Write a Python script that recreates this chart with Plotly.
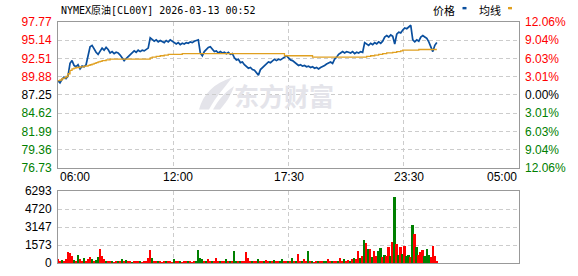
import plotly.graph_objects as go

# ---------------- data ----------------
step_minutes = 6
price = [89.3, 89.0, 89.5, 89.8, 89.6, 90.0, 91.8, 92.2, 91.5, 91.3,
         91.6, 91.0, 91.4, 91.3, 91.6, 92.8, 94.2, 94.4, 93.8, 93.4,
         93.1, 93.6, 94.0, 93.7, 94.1, 93.8, 93.3, 93.5, 93.2, 93.4,
         93.3, 93.0, 92.5, 92.2, 92.5, 92.8, 93.1, 93.4, 93.6, 93.4,
         93.7, 93.5, 93.7, 93.6, 93.8, 94.0, 95.5, 95.2, 95.0, 95.2,
         94.9, 95.1, 95.0, 94.8, 95.1, 94.9, 95.2, 95.0, 94.7, 94.6,
         94.8, 94.5, 94.7, 94.6, 94.8, 94.7, 94.9, 94.8, 95.0, 95.1,
         95.2, 93.3, 92.9, 93.5, 93.8, 94.1, 94.2, 93.9, 93.5, 93.6,
         93.3, 93.5, 93.3, 93.4, 93.2, 93.4, 93.1, 93.2, 92.6, 92.3,
         92.4, 91.9, 92.0, 91.6, 91.3, 91.1, 91.2, 90.9, 90.8, 90.4,
         90.1, 90.9, 91.2, 91.5, 91.7, 92.0, 91.9, 92.2, 92.4, 92.2,
         92.4, 92.3, 92.5, 92.7, 92.9, 92.6, 92.3, 92.2, 92.0, 91.7,
         91.5, 91.6, 91.4, 91.5, 91.3, 91.4, 91.2, 91.3, 91.1, 91.2,
         91.0, 91.2, 91.3, 91.5, 91.7, 91.9, 92.0, 91.8, 92.4, 92.7,
         93.1, 93.3, 93.5, 93.3, 93.5, 93.4, 93.3, 93.5, 93.2, 93.4,
         93.3, 93.5, 93.4, 94.8, 94.6, 94.4, 94.7, 94.5, 94.8, 94.6,
         94.9, 94.7, 95.0, 95.6, 95.8, 95.6, 95.9, 95.7, 94.6, 96.0,
         96.3, 96.2, 96.6, 96.9, 96.8, 97.0, 97.3, 95.2, 94.9, 95.2,
         95.0, 95.6, 95.8, 95.6, 95.4, 94.9, 94.3, 93.5, 94.4, 94.8]

avg = [89.3, 89.4, 89.6, 89.7, 89.9, 90.3, 90.8, 91.0, 91.1, 91.2,
       91.2, 91.3, 91.3, 91.4, 91.4, 91.5, 91.6, 91.7, 91.8, 91.9,
       92.0, 92.1, 92.2, 92.2, 92.3, 92.3, 92.4, 92.4, 92.4, 92.4,
       92.4, 92.4, 92.4, 92.4, 92.4, 92.4, 92.4, 92.4, 92.4, 92.4,
       92.4, 92.4, 92.4, 92.4, 92.4, 92.4, 92.6, 92.7, 92.7, 92.8,
       92.8, 92.9, 92.9, 93.0, 93.0, 93.1, 93.1, 93.1, 93.1, 93.1,
       93.1, 93.1, 93.2, 93.2, 93.2, 93.2, 93.2, 93.2, 93.2, 93.2,
       93.2, 93.2, 93.2, 93.2, 93.2, 93.2, 93.2, 93.2, 93.2, 93.2,
       93.2, 93.2, 93.2, 93.2, 93.2, 93.2, 93.2, 93.2, 93.2, 93.2,
       93.2, 93.2, 93.2, 93.2, 93.2, 93.2, 93.2, 93.2, 93.2, 93.2,
       93.2, 93.2, 93.2, 93.2, 93.2, 93.2, 93.2, 93.2, 93.2, 93.2,
       93.2, 93.2, 93.2, 92.9, 92.9, 92.9, 92.9, 92.9, 92.9, 92.9,
       92.9, 92.9, 92.9, 92.9, 92.9, 92.9, 92.9, 92.7, 92.7, 92.7,
       92.7, 92.7, 92.7, 92.7, 92.7, 92.7, 92.7, 92.7, 92.7, 92.7,
       92.7, 92.7, 92.7, 92.7, 92.7, 92.7, 92.7, 92.7, 92.7, 92.7,
       92.7, 92.7, 92.7, 92.7, 92.8, 92.8, 92.9, 92.9, 93.0, 93.0,
       93.1, 93.1, 93.2, 93.2, 93.3, 93.3, 93.3, 93.4, 93.4, 93.5,
       93.5, 93.6, 93.7, 93.7, 93.7, 93.7, 93.7, 93.7, 93.7, 93.7,
       93.8, 93.8, 93.8, 93.8, 93.8, 93.8, 93.8, 93.8, 93.8, 93.8]

volume = [350, 150, 250, 200, 300, 935, 850, 600, 250, 200,
          650, 300, 150, 425, 200, 380, 480, 300, 200, 250,
          500, 1215, 600, 300, 200, 150, 100, 150, 80, 120,
          100, 150, 300, 100, 250, 90, 120, 80, 100, 130,
          90, 110, 80, 100, 150, 400, 1130, 450, 120, 90,
          140, 100, 80, 120, 90, 100, 150, 80, 300, 100,
          90, 120, 80, 100, 130, 90, 110, 80, 150, 120,
          1100, 400, 300, 150, 150, 350, 100, 120, 100, 450,
          100, 130, 90, 120, 350, 100, 120, 100, 1045, 200,
          130, 120, 100, 150, 935, 450, 150, 200, 130, 150,
          300, 120, 100, 150, 250, 200, 120, 130, 250, 120,
          100, 140, 300, 100, 120, 100, 150, 425, 150, 120,
          765, 150, 130, 300, 150, 1045, 100, 120, 80, 100,
          120, 90, 110, 150, 200, 350, 120, 150, 130, 100,
          150, 450, 200, 300, 150, 250, 200, 300, 450, 300,
          1080, 400, 600, 2040, 1700, 1190, 1190, 500, 1080, 600,
          1080, 1275, 500, 700, 600, 1385, 600, 1870, 5755, 1640,
          700, 1385, 800, 1500, 600, 700, 500, 3315, 2550, 1420,
          700, 935, 1105, 600, 1190, 700, 500, 1500, 600, 150]

# 1 = up tick (red), 0 = down tick (green)
vol_up = [1, 1, 0, 1, 1, 1, 1, 1, 0, 1,
          0, 1, 1, 0, 1, 1, 1, 0, 1, 0,
          0, 1, 1, 1, 0, 1, 1, 0, 1, 1,
          0, 1, 0, 1, 0, 1, 1, 0, 1, 1,
          1, 0, 1, 1, 1, 1, 1, 0, 1, 1,
          0, 1, 1, 1, 0, 1, 1, 1, 0, 1,
          1, 0, 1, 1, 1, 0, 1, 1, 1, 0,
          0, 0, 0, 1, 0, 1, 1, 0, 1, 1,
          1, 0, 1, 1, 0, 1, 0, 1, 0, 0,
          1, 0, 1, 1, 1, 1, 1, 0, 1, 1,
          0, 1, 1, 0, 1, 1, 0, 1, 0, 1,
          1, 0, 0, 1, 1, 0, 1, 0, 1, 0,
          1, 1, 0, 1, 1, 0, 1, 0, 1, 1,
          0, 1, 1, 0, 0, 1, 1, 0, 1, 1,
          0, 1, 1, 0, 1, 1, 0, 1, 0, 1,
          1, 0, 1, 0, 1, 0, 1, 0, 1, 1,
          0, 0, 1, 0, 1, 1, 0, 1, 0, 1,
          0, 1, 0, 1, 0, 0, 1, 0, 1, 0,
          1, 1, 1, 0, 0, 0, 1, 1, 1, 1]

base_price = 87.25
price_ticks = [97.77, 95.14, 92.51, 89.88, 87.25, 84.62, 81.99, 79.36, 76.73]
pct_labels = ["12.06%", "9.04%", "6.03%", "3.01%", "0.00%", "3.01%", "6.03%", "9.04%", "12.06%"]
vol_ticks = [0, 1573, 3147, 4720, 6293]
vol_labels = ["0", "1573", "3147", "4720", "6293"]
time_labels = ["06:00", "12:00", "17:30", "23:30", "05:00"]
time_pos = [0, 360, 690, 1050, 1380]
grid_pos = [345, 690, 1035]
session_minutes = 1380
title_text = "NYMEX原油[CL00Y] 2026-03-13 00:52"

minutes = [i * step_minutes for i in range(len(price))]

# ---------------- styling ----------------
RED = "#ff0000"
GREEN = "#008000"
DARK = "#000000"
BLUE = "#0a4f9e"
GOLD = "#e0a020"
GRID = "#cccccc"
FRAME = "#999999"
FONT = "Liberation Sans, Arial, sans-serif"
W, H = 578, 276
ML, MR, MT, MB = 58, 59, 22, 6
PW, PH = W - ML - MR, H - MT - MB


def px(xp):
    return (xp - ML) / PW


def py(yp):
    return (H - MB - yp) / PH


def lvl_color(v):
    if abs(v - base_price) < 1e-6:
        return DARK
    return RED if v > base_price else GREEN


left_text = [f'<span style="color:{lvl_color(v)}">{v:.2f}</span>' for v in price_ticks]
right_text = [f'<span style="color:{lvl_color(v)}">{t}</span>' for v, t in zip(price_ticks, pct_labels)]

fig = go.Figure()

fig.add_trace(go.Scatter(x=minutes, y=avg, mode="lines", line=dict(color=GOLD, width=1.3, shape="hv"),
                         xaxis="x", yaxis="y2", hoverinfo="skip"))
fig.add_trace(go.Scatter(x=minutes, y=price, mode="lines", line=dict(color=BLUE, width=1.7),
                         xaxis="x", yaxis="y", hoverinfo="skip"))
fig.add_trace(go.Bar(x=minutes, y=volume, marker=dict(color=[RED if u else GREEN for u in vol_up], line=dict(width=0)),
                     width=step_minutes * 0.8, xaxis="x2", yaxis="y3", hoverinfo="skip"))

price_top = 1.0
price_bot = py(172)
vol_top = py(196)

grid_common = dict(showgrid=True, gridcolor=GRID, griddash="4px,3px", gridwidth=1,
                   showline=True, mirror=True, linecolor=FRAME, linewidth=1,
                   zeroline=False, ticks="")

fig.update_layout(
    width=W, height=H, margin=dict(l=ML, r=MR, t=MT, b=MB, pad=0),
    paper_bgcolor="white", plot_bgcolor="white", showlegend=False,
    bargap=0,
    font=dict(family=FONT, size=12, color=DARK),
    xaxis=dict(domain=[0, 1], anchor="y", range=[0, session_minutes], tickvals=grid_pos,
               showticklabels=False, **grid_common),
    yaxis=dict(domain=[price_bot, price_top], anchor="x", range=[price_ticks[-1], price_ticks[0]],
               tickvals=price_ticks, ticktext=left_text, ticklabelstandoff=3,
               tickfont=dict(family=FONT, size=12), **grid_common),
    yaxis2=dict(overlaying="y", side="right", anchor="x", range=[price_ticks[-1], price_ticks[0]],
                tickvals=price_ticks, ticktext=right_text, showgrid=False, zeroline=False,
                showline=False, ticks="", ticklabelstandoff=5, tickfont=dict(family=FONT, size=12)),
    xaxis2=dict(domain=[0, 1], anchor="y3", range=[0, session_minutes], tickvals=grid_pos,
                showticklabels=False, **grid_common),
    yaxis3=dict(domain=[0, vol_top], anchor="x2", range=[0, vol_ticks[-1]], tickvals=vol_ticks,
                ticktext=vol_labels, ticklabelstandoff=3, tickfont=dict(family=FONT, size=12, color=DARK),
                **grid_common),
)

annotations = []
# time labels under price panel
for i, (t, pos) in enumerate(zip(time_labels, time_pos)):
    anchor = "left" if i == 0 else ("right" if i == len(time_labels) - 1 else "center")
    annotations.append(dict(x=pos, xref="x", y=py(181), yref="paper", text=t, showarrow=False,
                            xanchor=anchor, yanchor="middle", font=dict(family=FONT, size=12, color=DARK)))
# title
annotations.append(dict(x=px(59), xref="paper", y=py(9.5), yref="paper",
                        text=title_text, showarrow=False, xanchor="left", yanchor="middle",
                        font=dict(family="DejaVu Sans Mono, Noto Sans CJK SC, monospace", size=10, color=DARK)))
# legend texts
annotations.append(dict(x=px(431), xref="paper", y=py(9.5), yref="paper", text="价格", showarrow=False,
                        xanchor="left", yanchor="middle",
                        font=dict(family="Noto Sans CJK SC", size=11, color=DARK)))
annotations.append(dict(x=px(476.5), xref="paper", y=py(9.5), yref="paper", text="均线", showarrow=False,
                        xanchor="left", yanchor="middle",
                        font=dict(family="Noto Sans CJK SC", size=11, color=DARK)))
# watermark
annotations.append(dict(x=px(284), xref="paper", y=py(97), yref="paper", text="东方财富", showarrow=False,
                        xanchor="center", yanchor="middle",
                        font=dict(family="Noto Sans CJK SC", size=25, color="#e4e4ea", weight=700)))
fig.update_layout(annotations=annotations)

shapes = [
    dict(type="rect", xref="paper", yref="paper", x0=px(462.5), x1=px(466.5), y0=py(9), y1=py(6.5),
         fillcolor=BLUE, line=dict(width=0)),
    dict(type="rect", xref="paper", yref="paper", x0=px(508), x1=px(512), y0=py(9), y1=py(6.5),
         fillcolor=GOLD, line=dict(width=0)),
]


def pth(points):
    s = ""
    for cmd, pts in points:
        s += cmd + " " + " ".join(f"{px(a):.4f},{py(b):.4f}" for a, b in pts) + " "
    return s + "Z"


shapes.append(dict(type="path", xref="paper", yref="paper", layer="below",
                   path=pth([("M", [(199, 112)]), ("C", [(203, 96), (214, 85), (232, 79)]),
                             ("C", [(226, 88), (216, 98), (209, 112)])]),
                   fillcolor="#e4e4ea", line=dict(width=0)))
shapes.append(dict(type="path", xref="paper", yref="paper", layer="below",
                   path=pth([("M", [(213, 112)]), ("C", [(219, 101), (226, 93), (234, 88)]),
                             ("C", [(231, 98), (225, 106), (220, 112)])]),
                   fillcolor="#e4e4ea", line=dict(width=0)))
fig.update_layout(shapes=shapes)

fig.write_html("out.html")
